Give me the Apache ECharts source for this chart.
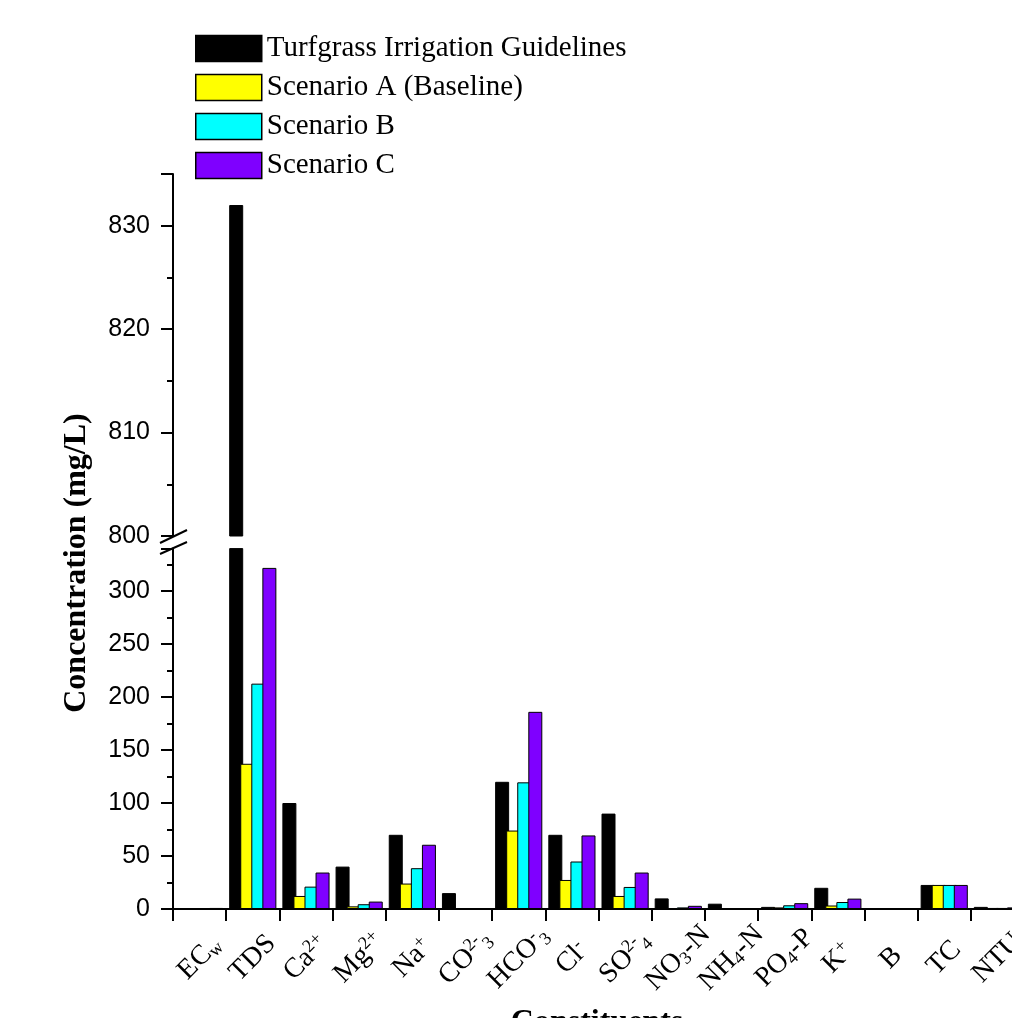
<!DOCTYPE html>
<html>
<head>
<meta charset="utf-8">
<script src="https://cdn.jsdelivr.net/npm/echarts@6/dist/echarts.min.js"></script>
<style>
html,body{margin:0;padding:0;background:#fff;}
#chart{width:1012px;height:1018px;}
</style>
</head>
<body>
<div id="chart"></div>
<script>
const categories = ['ECw','TDS','Ca2+','Mg2+','Na+','CO3 2-','HCO3-','Cl-','SO4 2-','NO3-N','NH4-N','PO4-P','K+','B','TC','NTU'];
const tickLabels = [
  'EC{sub|w}', 'TDS', 'Ca{sup|2+}', 'Mg{sup|2+}', 'Na{sup|+}', 'CO{sup|2-}{sub|3}',
  'HCO{sup|-}{sub|3}', 'Cl{sup|-}', 'SO{sup|2-}{sub|4}', 'NO{sub|3}-N', 'NH{sub|4}-N',
  'PO{sub|4}-P', 'K{sup|+}', 'B', 'TC', 'NTU'
];
const seriesNames = ['Turfgrass Irrigation Guidelines','Scenario A (Baseline)','Scenario B','Scenario C'];
const guideline = [0.75, 832, 100, 40, 70, 15, 120, 70, 90, 10, 5, 2, 20, 0.5, 22.7, 2];
const scenarioA = [0.6, 137, 12.3, 2.5, 24, 0, 74, 27.4, 12.3, 0.5, 0, 1.5, 3.3, 0, 22.7, 1];
const scenarioB = [0.8, 212.6, 21.1, 4.5, 38.5, 0, 119.5, 44.8, 20.8, 1.5, 0, 3.5, 6.6, 0, 22.7, 1];
const scenarioC = [1.0, 321.8, 34.4, 7, 60.6, 0, 186, 69.4, 34.4, 3, 0, 5.5, 9.8, 0, 22.7, 1.5];
const colors = ['#000000','#FFFF00','#00FFFF','#7F00FF'];
const lowerTicks = {min: 0, max: 340, interval: 50};
const upperTicks = {min: 800, max: 835, interval: 10};

const allData = [guideline, scenarioA, scenarioB, scenarioC];
const serif = '"Liberation Serif","Times New Roman",serif';
const sans = '"Liberation Sans",Arial,sans-serif';

const chart = echarts.init(document.getElementById('chart'), null, {renderer: 'canvas'});

const series = [];
allData.forEach((d, i) => {
  const common = {
    type: 'bar',
    name: seriesNames[i],
    barWidth: 14,
    barGap: '-21%',
    itemStyle: {color: colors[i], borderColor: '#000', borderWidth: 1},
    emphasis: {disabled: true},
    animation: false
  };
  series.push(Object.assign({}, common, {xAxisIndex: 1, yAxisIndex: 1, data: d.slice()}));
  series.push(Object.assign({}, common, {xAxisIndex: 0, yAxisIndex: 0, data: d.map(v => v >= upperTicks.min ? v : null)}));
});

const axisLineStyle = {color: '#000', width: 2};

const option = {
  animation: false,
  textStyle: {fontFamily: sans},
  legend: {
    orient: 'vertical',
    left: 190,
    top: 29,
    padding: 5,
    itemWidth: 66,
    itemHeight: 26,
    itemGap: 10,
    icon: 'rect',
    data: seriesNames,
    itemStyle: {borderColor: '#000', borderWidth: 1.5},
    textStyle: {fontFamily: serif, fontSize: 29, color: '#000', lineHeight: 26},
    selectedMode: false
  },
  grid: [
    {left: 173, right: -12, top: 174, height: 362, outerBoundsMode: 'none', containLabel: false},
    {left: 173, right: -12, top: 548.6, height: 360.4, outerBoundsMode: 'none', containLabel: false}
  ],
  xAxis: [
    {type: 'category', gridIndex: 0, data: categories, show: false},
    {
      type: 'category', gridIndex: 1, data: categories,
      axisLine: {lineStyle: axisLineStyle},
      axisTick: {show: true, length: 12, lineStyle: {width: 2, color: '#000'}},
      axisLabel: {
        rotate: 45, align: 'center', verticalAlign: 'middle', margin: 49, interval: 0,
        fontFamily: serif, fontSize: 28, color: '#000', lineHeight: 30,
        formatter: (v, idx) => tickLabels[idx],
        rich: {
          sub: {fontFamily: serif, fontSize: 18, color: '#000', verticalAlign: 'bottom', lineHeight: 14},
          sup: {fontFamily: serif, fontSize: 18, color: '#000', verticalAlign: 'top', lineHeight: 14}
        }
      }
    }
  ],
  yAxis: [
    {
      type: 'value', gridIndex: 0, min: upperTicks.min, max: upperTicks.max, interval: upperTicks.interval,
      splitLine: {show: false},
      axisLine: {show: true, lineStyle: axisLineStyle},
      axisTick: {show: true, length: 12, lineStyle: {width: 2, color: '#000'}},
      minorTick: {show: true, splitNumber: 2, length: 6, lineStyle: {width: 2, color: '#000'}},
      axisLabel: {fontFamily: sans, fontSize: 25, color: '#000', margin: 23, showMaxLabel: false,
        formatter: v => (v % 10 === 0 ? String(v) : '')}
    },
    {
      type: 'value', gridIndex: 1, min: lowerTicks.min, max: lowerTicks.max, interval: lowerTicks.interval,
      splitLine: {show: false},
      axisLine: {show: true, lineStyle: axisLineStyle},
      axisTick: {show: true, length: 12, lineStyle: {width: 2, color: '#000'}},
      minorTick: {show: true, splitNumber: 2, length: 6, lineStyle: {width: 2, color: '#000'}},
      axisLabel: {fontFamily: sans, fontSize: 25, color: '#000', margin: 23, showMaxLabel: false,
        formatter: v => (v % 50 === 0 ? String(v) : '')}
    }
  ],
  series: series,
  graphic: [
    {type: 'line', shape: {x1: 160, y1: 543, x2: 187, y2: 530}, style: {stroke: '#000', lineWidth: 2}, z: 100},
    {type: 'line', shape: {x1: 160, y1: 554, x2: 187, y2: 542}, style: {stroke: '#000', lineWidth: 2}, z: 100},
    {type: 'text', x: 77, y: 563, rotation: Math.PI / 2,
      style: {text: 'Concentration (mg/L)', font: 'bold 32px ' + serif, fill: '#000', align: 'center', verticalAlign: 'middle'}},
    {type: 'text', x: 597, y: 1007,
      style: {text: 'Constituents', font: 'bold 32px ' + serif, fill: '#000', align: 'center', verticalAlign: 'top'}}
  ]
};
chart.setOption(option);
</script>
</body>
</html>
